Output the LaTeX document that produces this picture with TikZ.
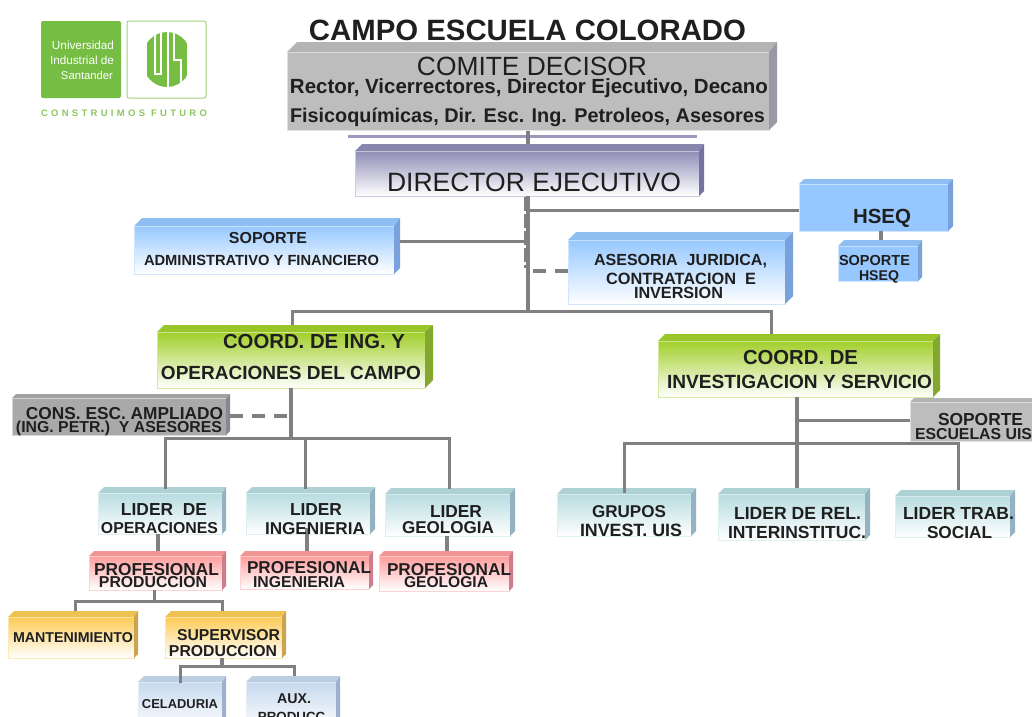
\documentclass[tikz,border=0pt]{standalone}
\usepackage{fontspec}
\usepackage{xcolor}
\setmainfont{Liberation Sans}
\definecolor{lineg}{HTML}{808080}
\definecolor{uisgreen}{HTML}{76BD43}
\definecolor{greyfc}{HTML}{BDBDBD}
\definecolor{greytp}{HTML}{A9A9A9}
\definecolor{purplefc}{HTML}{8F8DB6}
\definecolor{bluefc}{HTML}{96C8FF}
\definecolor{greenfc}{HTML}{A2CF2B}
\definecolor{tealfc}{HTML}{B7DCE0}
\definecolor{redfc}{HTML}{FF9C9C}
\definecolor{yellowfc}{HTML}{FCCB55}
\definecolor{skyfc}{HTML}{C6D9EE}
\tikzset{
  link/.style={draw=lineg, line width=3.2pt},
  thinlink/.style={draw=lineg, line width=3pt},
  dashlink/.style={draw=lineg, line width=4.5pt, dash pattern=on 13pt off 9pt},
  lbl/.style={inner sep=0pt, outer sep=0pt, anchor=base, text=black!88}
}
% name, x0, y0, x1, y1, face, bottom, top band, right band
\newcommand{\orgbox}[9]{
  \node[inner sep=0pt, outer sep=0pt, minimum width={(#4-#2)*1pt}, minimum height={(#5-#3)*1pt}] (#1) at ({(#2+#4)/2},{(#3+#5)/2}) {};
  \shade[top color=#6, bottom color=#7, draw=#6!45] (#2,#3+#8) rectangle (#4-#9,#5);
  \fill[#6!95!black] (#2,#3+#8) -- (#2+#8,#3) -- (#4,#3) -- (#4-#9,#3+#8) -- cycle;
  \fill[#6!85!black!95!blue] (#4-#9,#3+#8) -- (#4,#3) -- (#4,#5-#9) -- (#4-#9,#5) -- cycle;
}
% name, x0, x1, baseline, text
\newcommand{\lbl}[6][]{
  \pgfmathsetmacro{\lblw}{#4-#3}
  \node[lbl] (#2) at ({(#3+#4)/2},#5) {\resizebox{\lblw pt}{!}{#1#6}};
}
\begin{document}
\begin{tikzpicture}[x=1pt, y=-1pt]
  \useasboundingbox (0,0) rectangle (1032,716);
  \clip (0,0) rectangle (1032,716);

  % logo
  \node[fill=uisgreen, rounded corners=2pt, minimum width=80pt, minimum height=77pt, inner sep=0pt] (logoleft) at (81,59.5) {};
  \node[draw=uisgreen!70, line width=1pt, rounded corners=2pt, minimum width=79pt, minimum height=77pt, inner sep=0pt] (logoright) at (166.5,59.5) {};
  \lbl[\color{white}]{logoa}{52}{114}{49}{Universidad}
  \lbl[\color{white}]{logob}{50}{114}{64}{Industrial de}
  \lbl[\color{white}]{logoc}{61}{113}{79}{Santander}
  \begin{scope}
    \clip (147,30) rectangle (187,88);
    \clip (167,59.5) ellipse (25 and 27.5);
    \fill[uisgreen] (147,30) rectangle (187,88);
    \draw[white, line width=1.2pt] (155,30) -- (155,74) -- (161,74) -- (161,30) (168,30) -- (168,88)
      (174,30) -- (174,60) -- (181,60) -- (181,88);
  \end{scope}
  \lbl[\color{uisgreen!85}\bfseries\addfontfeature{LetterSpace=35}]{logotag}{41}{207}{116}{CONSTRUIMOS FUTURO}

  \lbl[\bfseries]{titulo}{309}{746}{40}{CAMPO ESCUELA COLORADO}

  \coordinate (jdir) at (528,311);
  \coordinate (jleft) at (292,311);
  \coordinate (jright) at (771,311);
  \draw[draw=purplefc!90, line width=3pt] (348,136) -- (697,136);
  \draw[link] (jdir |- 0,130) -- (jdir);

  \orgbox{comite}{287}{42}{777}{130}{greyfc}{greyfc}{10}{8}
  \orgbox{director}{355}{144}{704}{196}{purplefc}{white}{7}{5}
  \orgbox{admin}{134}{218}{400}{274}{bluefc}{white}{8}{6}
  \orgbox{asesoria}{568}{232}{793}{304}{bluefc}{white}{8}{8}
  \orgbox{hseq}{799}{179}{953}{231}{bluefc}{bluefc}{5}{5}
  \orgbox{sophseq}{838}{240}{922}{281}{bluefc}{bluefc}{6}{4}
  \orgbox{coordop}{157}{325}{433}{388}{greenfc}{white}{7}{8}
  \orgbox{coordinv}{658}{334}{940}{397}{greenfc}{white}{7}{7}
  \orgbox{consesc}{12}{394}{230}{435}{greytp}{greytp}{4}{4}
  \orgbox{sopesc}{910}{398}{1040}{441}{greyfc}{greyfc}{4}{4}
  \orgbox{lidop}{98}{487}{226}{534}{tealfc}{white}{6}{4}
  \orgbox{liding}{246}{487}{375}{534}{tealfc}{white}{6}{5}
  \orgbox{lidgeo}{385}{488}{515}{536}{tealfc}{white}{6}{5}
  \orgbox{grupos}{557}{488}{696}{536}{tealfc}{white}{6}{5}
  \orgbox{lidrel}{718}{488}{870}{540}{tealfc}{white}{6}{5}
  \orgbox{lidtrab}{895}{490}{1015}{537}{tealfc}{white}{6}{5}
  \orgbox{profprod}{89}{551}{226}{590}{redfc}{white}{5}{4}
  \orgbox{profing}{240}{551}{373}{589}{redfc}{white}{5}{4}
  \orgbox{profgeo}{379}{551}{513}{591}{redfc}{white}{5}{4}
  \orgbox{mant}{8}{611}{138}{658}{yellowfc}{white}{6}{4}
  \orgbox{superv}{165}{611}{286}{658}{yellowfc}{white}{6}{4}
  \orgbox{celad}{138}{676}{226}{730}{skyfc}{white}{6}{4}
  \orgbox{auxprod}{246}{676}{340}{730}{skyfc}{white}{6}{4}

  % connectors
  \draw[link] (jdir |- director.south) -- (jdir);
  \draw[thinlink] (jleft |- coordop.north) -- (jleft) -- (jright) -- (jright |- coordinv.north);
  \draw[thinlink] (hseq.west |- 0,210) -- (jdir |- 0,210);
  \draw[thinlink] (admin.east |- 0,241) -- (jdir |- 0,241);
  \draw[link] (881,231) -- (881,240);
  \draw[dashlink] (asesoria.west |- 0,271) -- (jdir |- 0,271);
  \draw[draw=lineg, line width=3pt, dash pattern=on 14pt off 3pt] (525,197) -- (525,268);

  \coordinate (jop) at (291,438);
  \draw[line width=4.5pt, draw=lineg] (jop |- coordop.south) -- (jop);
  \draw[dashlink] (consesc.east |- 0,416) -- (jop |- 0,416);
  \draw[thinlink] (165,489) -- (165,438) -- (449,438) -- (449,489);
  \draw[thinlink] (305,438) -- (305,489);
  \draw[link] (158,534) -- (158,551);
  \draw[link] (307,528) -- (307,551);
  \draw[link] (447,536) -- (447,551);
  \draw[thinlink] (75,611) -- (75,601) -- (222,601) -- (222,611);
  \draw[thinlink] (154,590) -- (154,601);
  \draw[link] (222,658) -- (222,666);
  \draw[thinlink] (180,683) -- (180,666) -- (294,666) -- (294,676);

  \coordinate (jinv) at (797,443);
  \draw[line width=3.6pt, draw=lineg] (jinv |- coordinv.south) -- (797,488);
  \draw[thinlink] (jinv |- 0,420) -- (sopesc.west |- 0,420);
  \draw[thinlink] (624,493) -- (624,443) -- (958,443) -- (958,490);

  % labels
  \lbl{comitea}{417}{647}{75}{COMITE DECISOR}
  \lbl[\bfseries]{comiteb}{290}{768}{93}{Rector, Vicerrectores, Director Ejecutivo, Decano}
  \lbl[\bfseries]{comitec}{290}{765}{122}{Fisicoquímicas, Dir. Esc. Ing. Petroleos, Asesores}
  \lbl{directora}{387}{681}{191}{DIRECTOR EJECUTIVO}
  \lbl[\bfseries]{admina}{229}{307}{243}{SOPORTE}
  \lbl[\bfseries]{adminb}{144}{379}{265}{ADMINISTRATIVO Y FINANCIERO}
  \lbl[\bfseries]{hseqa}{853}{911}{223}{HSEQ}
  \lbl[\bfseries]{sophseqa}{839}{910}{265}{SOPORTE}
  \lbl[\bfseries]{sophseqb}{859}{899}{280}{HSEQ}
  \lbl[\bfseries]{asesoriaa}{594}{767}{265}{ASESORIA \ JURIDICA,}
  \lbl[\bfseries]{asesoriab}{606}{756}{284}{CONTRATACION \ E}
  \lbl[\bfseries]{asesoriac}{634}{723}{298}{INVERSION}
  \lbl[\bfseries]{coordopa}{223}{405}{348}{COORD. DE ING. Y}
  \lbl[\bfseries]{coordopb}{161}{421}{379}{OPERACIONES DEL CAMPO}
  \lbl[\bfseries]{coordinva}{743}{858}{364}{COORD. DE}
  \lbl[\bfseries]{coordinvb}{667}{932}{388}{INVESTIGACION Y SERVICIO}
  \lbl[\bfseries]{consesca}{26}{223}{419}{CONS. ESC. AMPLIADO}
  \lbl[\bfseries]{consescb}{16}{222}{432}{(ING. PETR.) \ Y ASESORES}
  \lbl[\bfseries]{sopesca}{938}{1023}{425}{SOPORTE}
  \lbl[\bfseries]{sopescb}{915}{1032}{439}{ESCUELAS UIS}
  \lbl[\bfseries]{lidopa}{121}{207}{515}{LIDER \ DE}
  \lbl[\bfseries]{lidopb}{101}{218}{533}{OPERACIONES}
  \lbl[\bfseries]{linga}{290}{342}{515}{LIDER}
  \lbl[\bfseries]{lingb}{265}{365}{534}{INGENIERIA}
  \lbl[\bfseries]{lgeoa}{430}{482}{517}{LIDER}
  \lbl[\bfseries]{lgeob}{402}{494}{533}{GEOLOGIA}
  \lbl[\bfseries]{gruposa}{592}{666}{517}{GRUPOS}
  \lbl[\bfseries]{gruposb}{580}{682}{536}{INVEST. UIS}
  \lbl[\bfseries]{lrela}{734}{861}{519}{LIDER DE REL.}
  \lbl[\bfseries]{lrelb}{728}{866}{538}{INTERINSTITUC.}
  \lbl[\bfseries]{ltraba}{903}{1014}{519}{LIDER TRAB.}
  \lbl[\bfseries]{ltrabb}{927}{992}{538}{SOCIAL}
  \lbl[\bfseries]{pproda}{94}{219}{575}{PROFESIONAL}
  \lbl[\bfseries]{pprodb}{99}{207}{587}{PRODUCCION}
  \lbl[\bfseries]{pinga}{247}{371}{573}{PROFESIONAL}
  \lbl[\bfseries]{pingb}{253}{345}{587}{INGENIERIA}
  \lbl[\bfseries]{pgeoa}{387}{511}{575}{PROFESIONAL}
  \lbl[\bfseries]{pgeob}{404}{488}{587}{GEOLOGIA}
  \lbl[\bfseries]{manta}{13}{133}{642}{MANTENIMIENTO}
  \lbl[\bfseries]{supera}{177}{280}{640}{SUPERVISOR}
  \lbl[\bfseries]{superb}{169}{277}{656}{PRODUCCION}
  \lbl[\bfseries]{celada}{142}{218}{708}{CELADURIA}
  \lbl[\bfseries]{auxa}{277}{311}{703}{AUX.}
  \lbl[\bfseries]{auxb}{258}{329}{721}{PRODUCC.}
\end{tikzpicture}
\end{document}
